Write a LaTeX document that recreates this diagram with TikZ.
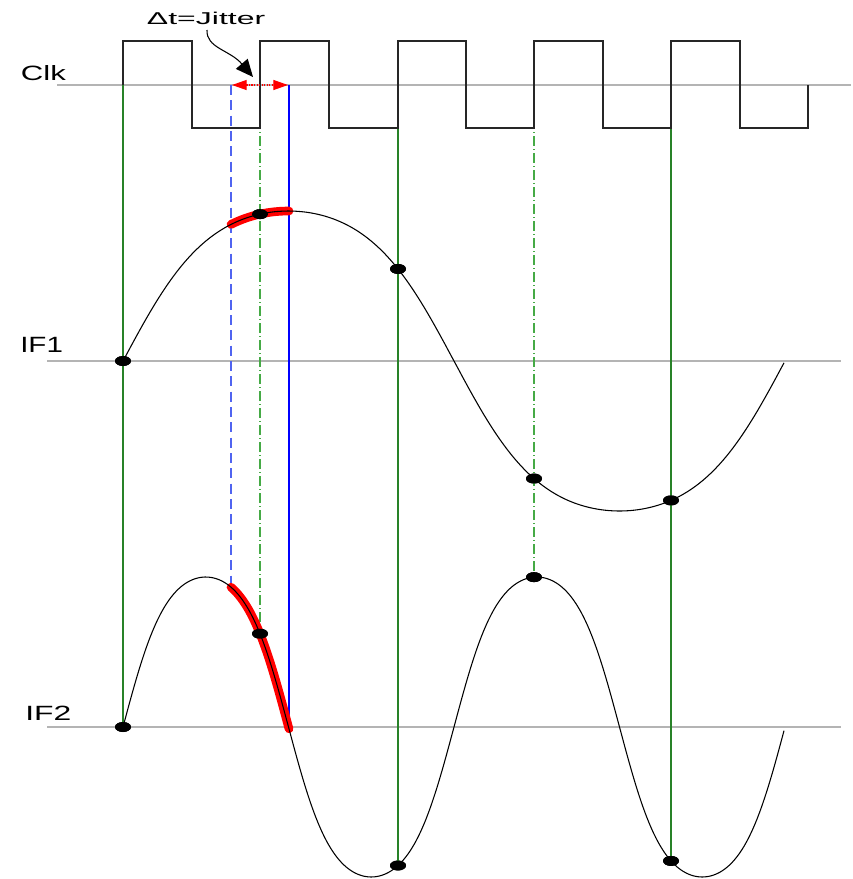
\documentclass[tikz,border=0pt]{standalone}
\usepackage{fontspec}
\setmainfont{Liberation Sans}
\usetikzlibrary{arrows.meta,shapes.geometric}
\definecolor{axisgray}{RGB}{180,180,180}
\definecolor{gsolid}{RGB}{40,130,40}
\definecolor{gdash}{RGB}{70,170,70}
\definecolor{bdash}{RGB}{80,100,240}
\begin{document}
\begin{tikzpicture}[x=0.75pt,y=-0.75pt,
  declare function={fa(\t)=361-150*tanh(sin((\t-123)/662*360))/0.76159;
                    fb(\t)=727-150*tanh(sin((\t-123)/331*360))/0.76159;},
  axisline/.style={axisgray,line width=1.5pt},
  clock/.style={black!85,line width=0.8pt},
  wave/.style={black,line width=0.8pt},
  hot/.style={red,line width=6.5pt,line cap=round},
  dot/.style={ellipse,fill=black,minimum width=12pt,minimum height=7.5pt,inner sep=0pt},
  gline/.style={gsolid,line width=0.9pt},
  gdashdot/.style={gdash,line width=0.9pt,dash pattern=on 7.5pt off 2.25pt on 0.75pt off 2.25pt},
  bluedash/.style={bdash,line width=0.9pt,dash pattern=on 7.5pt off 4pt},
  blueline/.style={blue,line width=0.9pt},
  lbl/.style={anchor=base west,inner sep=0pt}]
\useasboundingbox (0,0) rectangle (853,879);

% axes
\coordinate (ca0) at (57,85);  \coordinate (ca1) at (851,85);
\coordinate (ia0) at (47,361); \coordinate (ia1) at (841,361);
\coordinate (ib0) at (47,727); \coordinate (ib1) at (841,727);
\draw[axisline] (ca0) -- (ca1);
\draw[axisline] (ia0) -- (ia1);
\draw[axisline] (ib0) -- (ib1);

% clock-axis points
\coordinate (k123) at (123,85);
\coordinate (k231) at (231,85);
\coordinate (k260) at (260,85);
\coordinate (k289) at (289,85);
\coordinate (k398) at (398,85);
\coordinate (k534) at (534,85);
\coordinate (k671) at (671,85);

% dots
\node[dot] (a1) at (123,{fa(123)}) {};
\node[dot] (a2) at (260,{fa(260)}) {};
\node[dot] (a3) at (398,{fa(398)}) {};
\node[dot] (a4) at (534,{fa(534)}) {};
\node[dot] (a5) at (671,{fa(671)}) {};
\node[dot] (b1) at (123,{fb(123)}) {};
\node[dot] (b2) at (260,{fb(260)}) {};
\node[dot] (b3) at (398,{fb(398)}) {};
\node[dot] (b4) at (534,{fb(534)}) {};
\node[dot] (b5) at (671,{fb(671)}) {};
\coordinate (bs) at (231,{fb(231)});
\coordinate (be) at (289,727);

% vertical lines
\draw[gline] (k123) -- (b1.center);
\draw[gline] (k398) -- (b3.center);
\draw[gline] (k671) -- (b5.center);
\draw[gdashdot] (k260) -- (b2.center);
\draw[gdashdot] (k534) -- (b4.center);
\draw[bluedash] (k231) -- (bs);
\draw[blueline] (k289) -- (be);

% clock
\draw[clock] (123,85) -- (123,41) -- (192,41) -- (192,128) -- (260,128) -- (260,41)
  -- (329,41) -- (329,128) -- (398,128) -- (398,41) -- (466,41) -- (466,128)
  -- (534,128) -- (534,41) -- (603,41) -- (603,128) -- (671,128) -- (671,41)
  -- (740,41) -- (740,128) -- (808,128) -- (808,85);

% red jitter segments
\draw[hot] plot[domain=231:289,samples=30,smooth,variable=\t] (\t,{fa(\t)});
\draw[hot] plot[domain=231:289,samples=30,smooth,variable=\t] (\t,{fb(\t)});

% waves
\draw[wave] plot[domain=123:784,samples=220,smooth,variable=\t] (\t,{fa(\t)});
\draw[wave] plot[domain=123:784,samples=300,smooth,variable=\t] (\t,{fb(\t)});

% redraw dots on top
\foreach \n in {a1,a2,a3,a4,a5,b1,b2,b3,b4,b5}
  \fill (\n.center) ellipse [x radius=6pt,y radius=3.75pt];

% jitter arrow
\coordinate (jl) at (232,85);
\coordinate (jr) at (288,85);
\draw[red,line width=0.9pt,densely dotted,
  {Triangle[length=11pt,width=7.5pt]}-{Triangle[length=11pt,width=7.5pt]}] (jl) -- (jr);

% labels
\node[lbl] (clk) at (20.7,80) {\resizebox{33.75pt}{11.25pt}{Clk}};
\node[lbl] (if1) at (20,352.7) {\resizebox{32pt}{11.4pt}{IF1}};
\node[lbl] (if2) at (25,720.7) {\resizebox{34.5pt}{10.8pt}{IF2}};
\node[lbl] (jit) at (146.7,24) {\resizebox{88.7pt}{9.3pt}{Δt=Jitter}};

\coordinate (ja) at (207,30);
\coordinate (jb) at (253,77);
\draw[black,line width=0.8pt,-{Triangle[length=13pt,width=11.5pt]}]
  (ja) .. controls (206,48) and (230,50) .. (jb);
\end{tikzpicture}
\end{document}
